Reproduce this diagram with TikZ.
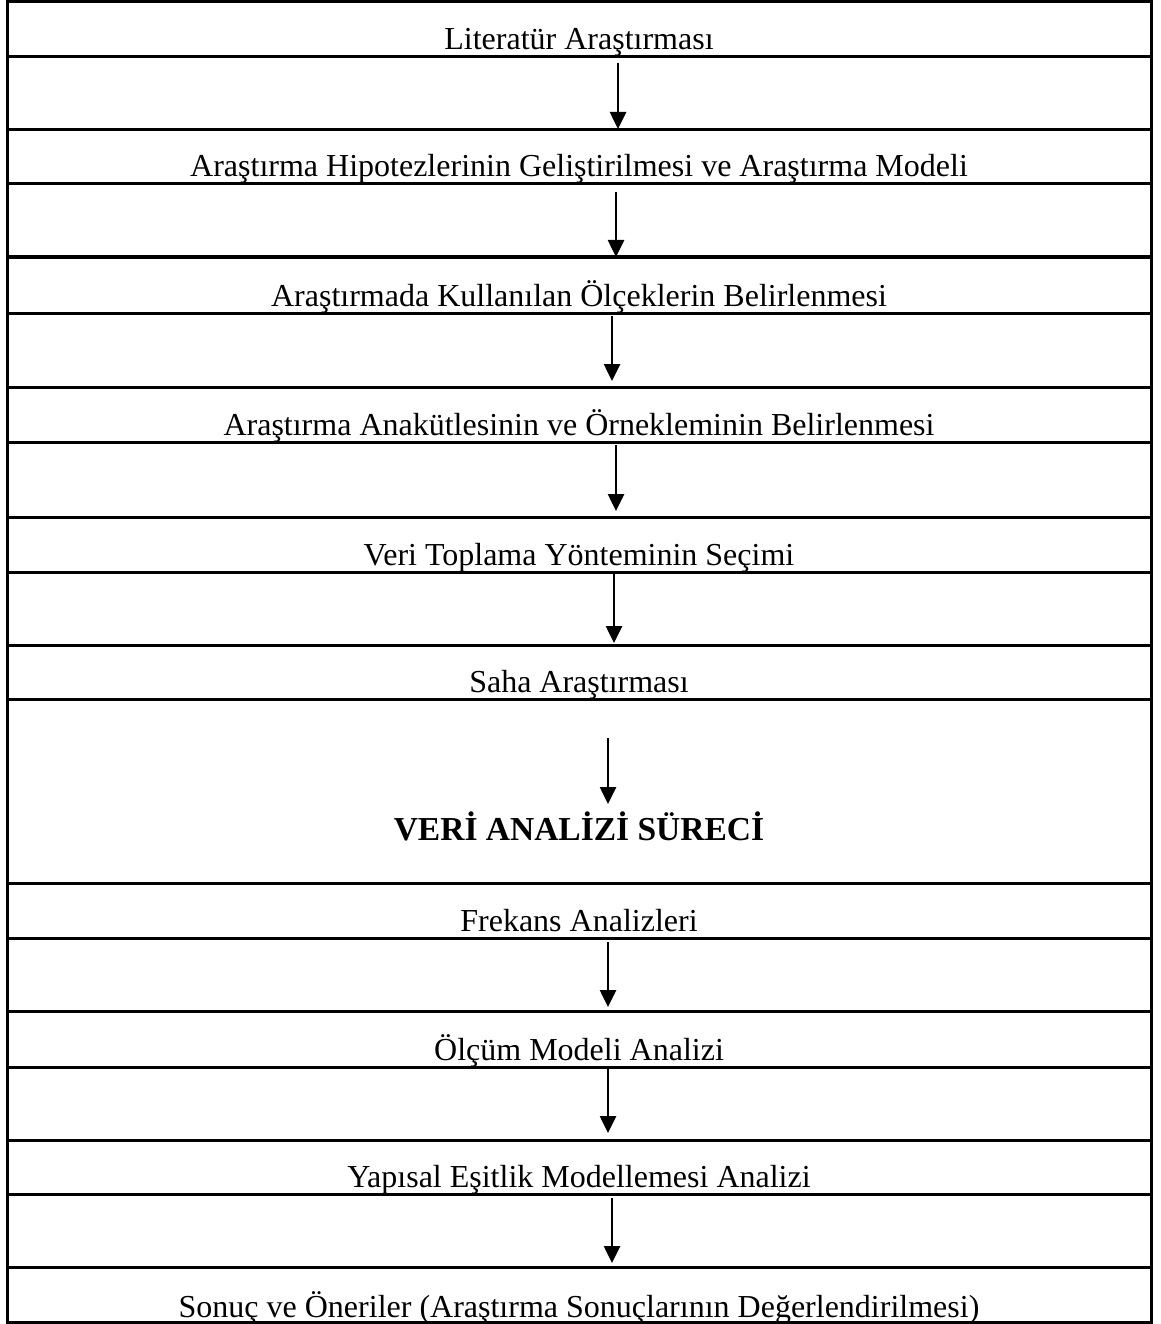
\documentclass[tikz,border=0pt]{standalone}
\usepackage{fontspec}
\setmainfont{Liberation Serif}
\usetikzlibrary{arrows.meta}
\begin{document}
\begin{tikzpicture}[x=1pt,y=-1pt,
  rule/.style={line width=3pt},
  label/.style={anchor=base,inner sep=0pt,font=\fontsize{32}{38}\selectfont},
  headlabel/.style={anchor=base,inner sep=0pt,font=\fontsize{33.5}{40}\selectfont\bfseries},
  flow/.style={line width=2.6pt,-{Triangle[width=16pt,length=17pt]}}]
\useasboundingbox (0,0) rectangle (1160,1324);
% outer frame and row separators
\draw[rule] (7,2) rectangle (1151,1322);
\foreach \y in {57,130,184,257,313,387,442,517,572,645,699,883,938,1011,1067,1140,1194,1267}
  \draw[rule] (7,\y) -- (1151,\y);
% step labels
\node[label] (s1) at (579,50) {Literatür Araştırması};
\node[label] (s2) at (579,177) {Araştırma Hipotezlerinin Geliştirilmesi ve Araştırma Modeli};
\node[label] (s3) at (579,306) {Araştırmada Kullanılan Ölçeklerin Belirlenmesi};
\node[label] (s4) at (579,435) {Araştırma Anakütlesinin ve Örnekleminin Belirlenmesi};
\node[label] (s5) at (579,565) {Veri Toplama Yönteminin Seçimi};
\node[label] (s6) at (579,692) {Saha Araştırması};
\node[headlabel] (s7) at (579,840) {VERİ ANALİZİ SÜRECİ};
\node[label] (s8) at (579,931) {Frekans Analizleri};
\node[label] (s9) at (579,1060) {Ölçüm Modeli Analizi};
\node[label] (s10) at (579,1187) {Yapısal Eşitlik Modellemesi Analizi};
\node[label] (s11) at (579,1317) {Sonuç ve Öneriler (Araştırma Sonuçlarının Değerlendirilmesi)};
% arrow end points
\coordinate (a1s) at (618,63);   \coordinate (a1e) at (618,129);
\coordinate (a2s) at (616,192);  \coordinate (a2e) at (616,257);
\coordinate (a3s) at (612,316);  \coordinate (a3e) at (612,381);
\coordinate (a4s) at (616,445);  \coordinate (a4e) at (616,511);
\coordinate (a5s) at (614,574);  \coordinate (a5e) at (614,643);
\coordinate (a6s) at (608,738);  \coordinate (a6e) at (608,804);
\coordinate (a7s) at (608,942);  \coordinate (a7e) at (608,1007);
\coordinate (a8s) at (608,1068); \coordinate (a8e) at (608,1133);
\coordinate (a9s) at (612,1198); \coordinate (a9e) at (612,1263);
\foreach \i in {1,...,9}
  \draw[flow] (a\i s) -- (a\i e);
\end{tikzpicture}
\end{document}
